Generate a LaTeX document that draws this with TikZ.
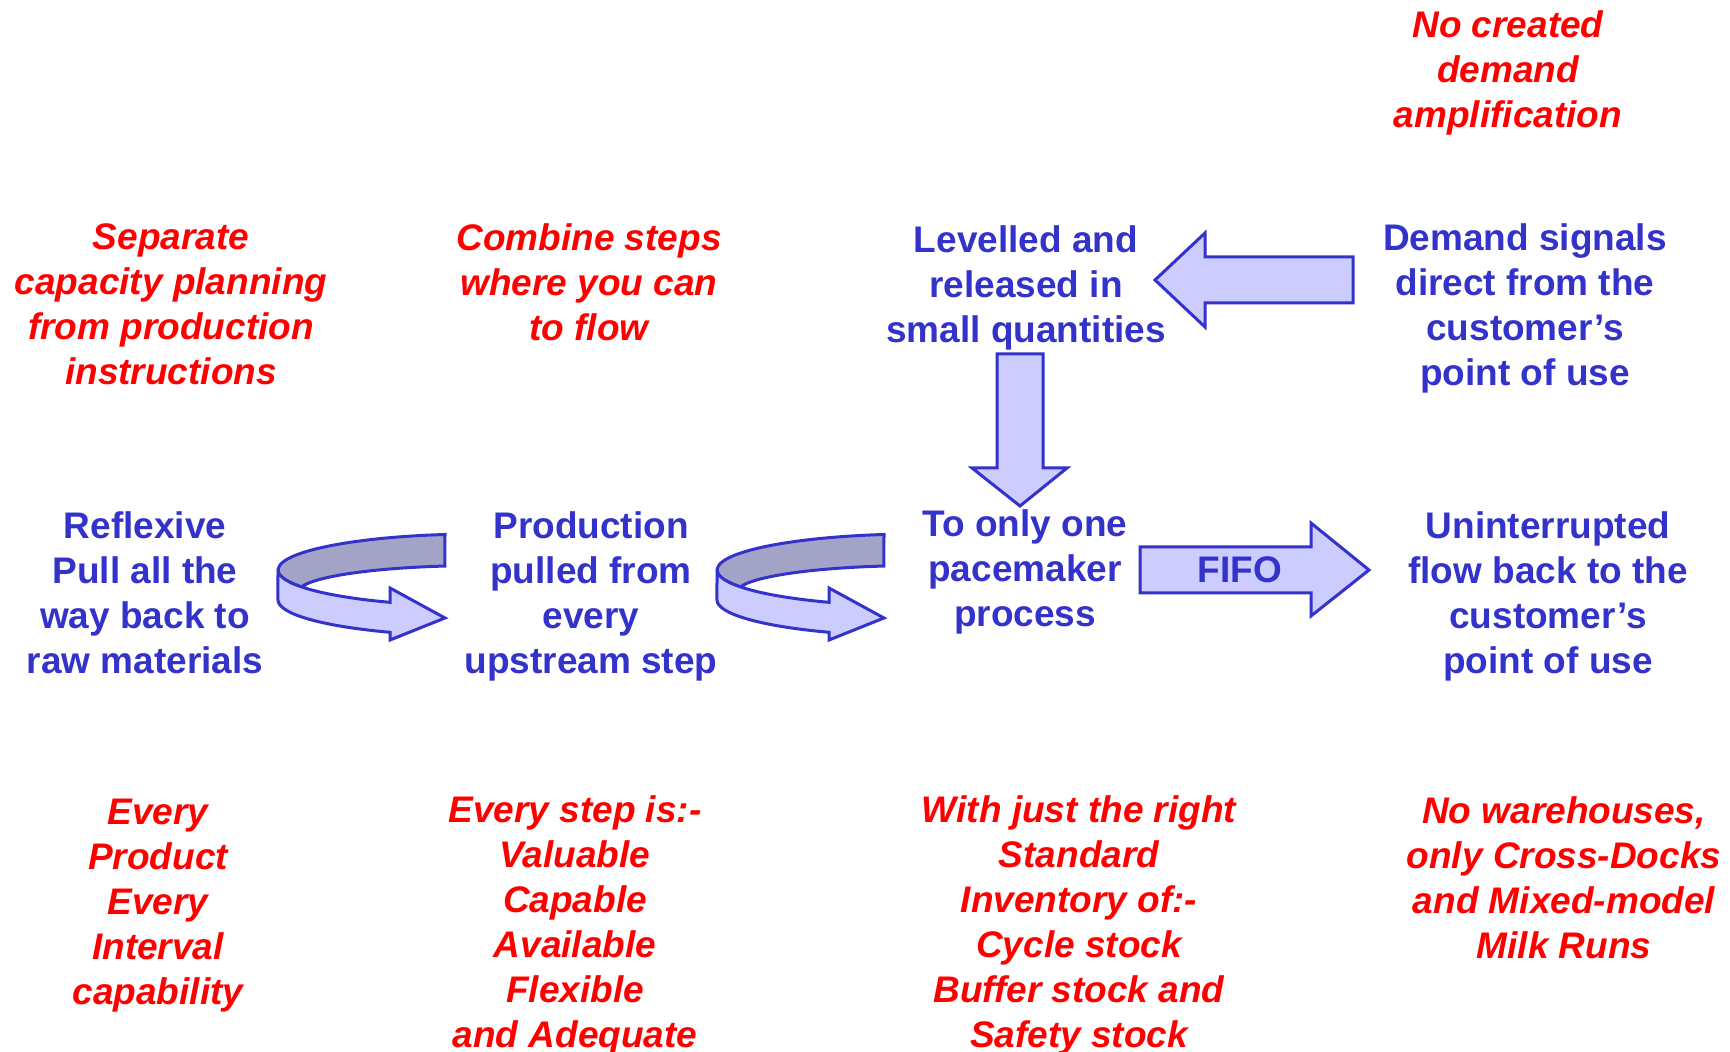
\documentclass[tikz,border=0pt]{standalone}
\usepackage{fontspec}
\setmainfont{Liberation Sans}
\definecolor{txtblue}{RGB}{51,51,204}
\definecolor{txtred}{RGB}{255,0,0}
\definecolor{arrowfill}{RGB}{204,204,255}
\definecolor{bandshade}{RGB}{163,163,200}

\tikzset{
  blockarrow/.style={draw=txtblue, fill=arrowfill, line width=1.5pt, line join=miter},
  % ribbon that turns back on itself and ends in an arrow head
  uturn/.pic={
    \draw[blockarrow, fill=bandshade]
      (-33,-35.5) arc[start angle=260.5, end angle=150, x radius=200, y radius=36]
      -- (-180,22) arc[start angle=180, end angle=259.4, x radius=180, y radius=26.4]
      -- cycle;
    \draw[blockarrow]
      (-200,0) arc[start angle=180, end angle=116.1, x radius=200, y radius=36]
      -- (-88,18) -- (-33,48) -- (-88,70) -- (-88,62.3)
      arc[start angle=116.1, end angle=180, x radius=200, y radius=36]
      -- cycle;
  }
}

\begin{document}
\begin{tikzpicture}[x=0.5pt,y=-0.5pt,
  every node/.style={inner sep=0pt, align=center,
    font=\fontsize{18.5}{22.5}\selectfont\bfseries},
  bluetxt/.style={text=txtblue},
  redtxt/.style={text=txtred,
    font=\fontsize{18.5}{22.5}\selectfont\bfseries\itshape}]

\useasboundingbox[fill=white] (0,0) rectangle (1730,1052);

% block arrows
\draw[blockarrow] (1353,257) -- (1205,257) -- (1205,233) -- (1155,280)
  -- (1205,327) -- (1205,303) -- (1353,303) -- cycle;
\draw[blockarrow] (997,354) -- (1043,354) -- (1043,468) -- (1067,468)
  -- (1020,506) -- (972,468) -- (997,468) -- cycle;
\draw[blockarrow] (1140,547) -- (1311,547) -- (1311,523) -- (1369,570)
  -- (1311,616) -- (1311,593) -- (1140,593) -- cycle;
\node[bluetxt] (fifo) at (1240,570) {FIFO};

% turning arrows between the pull stages
\pic at (478,570) {uturn};
\pic at (917,570) {uturn};

% top row
\node[redtxt] (nocreated) at (1508,73) {No created\\demand\\amplification};

% second row
\node[redtxt] (separate) at (171,304.5) {Separate\\capacity planning\\from production\\instructions};
\node[redtxt] (combine) at (589,282.5) {Combine steps\\where you can\\to flow};
\node[bluetxt] (levelled) at (1026,287.5) {Levelled and\\released in\\small quantities};
\node[bluetxt] (demand) at (1525,308) {Demand signals\\direct from the\\customer’s\\point of use};

% third row
\node[bluetxt] (reflexive) at (145,592.5) {Reflexive\\Pull all the\\way back to\\raw materials};
\node[bluetxt] (production) at (591,596.5) {Production\\pulled from\\every\\upstream step};
\node[bluetxt] (pacemaker) at (1025,572) {To only one\\pacemaker\\process};
\node[bluetxt] (uninterrupted) at (1548,596.5) {Uninterrupted\\flow back to the\\customer’s\\point of use};

% bottom row
\node[redtxt] (epei) at (158,905.5) {Every\\Product\\Every\\Interval\\capability};
\node[redtxt] (everystep) at (575,925) {Every step is:-\\Valuable\\Capable\\Available\\Flexible\\and Adequate};
\node[redtxt] (withjust) at (1079,925) {With just the right\\Standard\\Inventory of:-\\Cycle stock\\Buffer stock and\\Safety stock};
\node[redtxt] (nowarehouses) at (1564,877.5) {No warehouses,\\only Cross-Docks\\and Mixed-model\\Milk Runs};

\end{tikzpicture}
\end{document}
